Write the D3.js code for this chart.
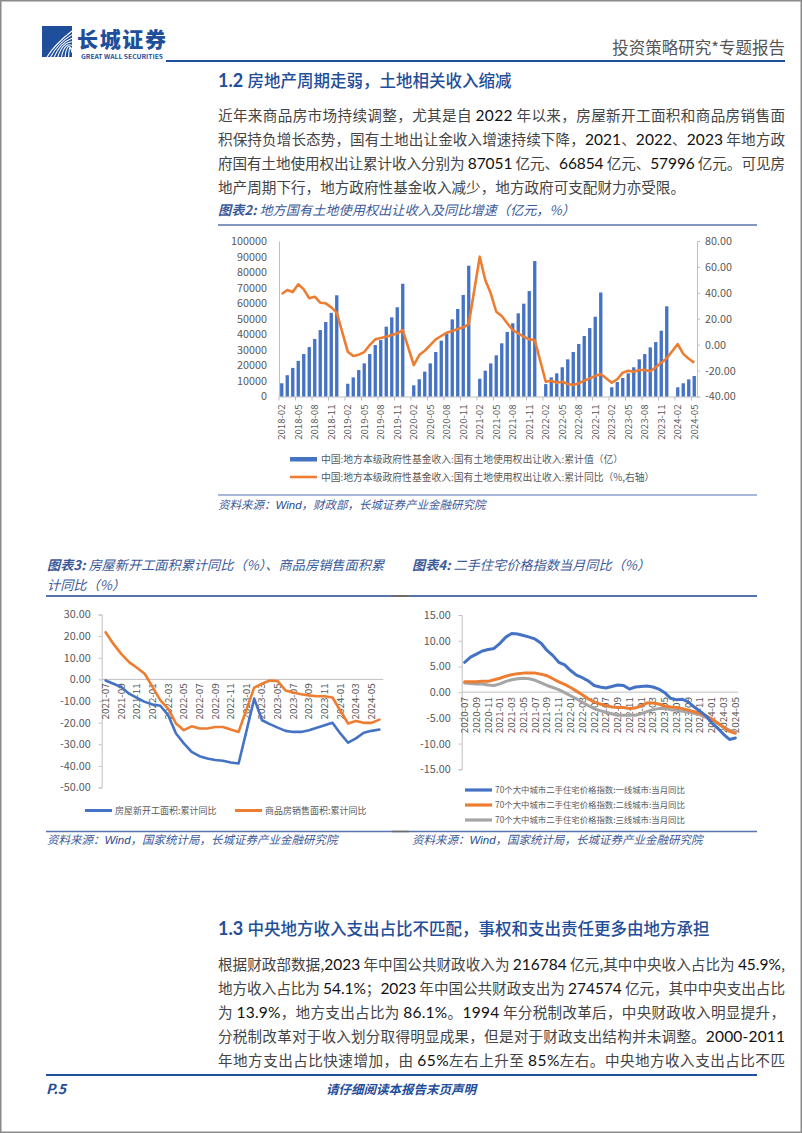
<!DOCTYPE html>
<html><head><meta charset="utf-8">
<script src="https://cdn.jsdelivr.net/npm/d3@7"></script>
<style>
html,body{margin:0;padding:0;background:#fff;}
svg{display:block;}
text{font-family:"Noto Sans CJK SC","Noto Sans",sans-serif;}
</style></head><body>
<svg id="page" width="802" height="1133"></svg>
<script>
// ---------------- DATA ----------------
const landMonths = [
"2018-02","2018-03","2018-04","2018-05","2018-06","2018-07","2018-08","2018-09","2018-10","2018-11","2018-12",
"2019-01","2019-02","2019-03","2019-04","2019-05","2019-06","2019-07","2019-08","2019-09","2019-10","2019-11","2019-12",
"2020-01","2020-02","2020-03","2020-04","2020-05","2020-06","2020-07","2020-08","2020-09","2020-10","2020-11","2020-12",
"2021-01","2021-02","2021-03","2021-04","2021-05","2021-06","2021-07","2021-08","2021-09","2021-10","2021-11","2021-12",
"2022-01","2022-02","2022-03","2022-04","2022-05","2022-06","2022-07","2022-08","2022-09","2022-10","2022-11","2022-12",
"2023-01","2023-02","2023-03","2023-04","2023-05","2023-06","2023-07","2023-08","2023-09","2023-10","2023-11","2023-12",
"2024-01","2024-02","2024-03","2024-04","2024-05"];
const landValue = [
8500,13700,18400,22900,27300,31800,37000,42700,47900,53800,65100,
null,8200,12300,17000,21300,27300,33100,36300,44900,50900,57400,72500,
null,7200,11100,16000,21300,28600,35900,40200,49600,56300,65300,84100,
null,11400,16600,21300,26500,34200,41500,47100,53500,59700,67800,87100,
null,8000,12300,14900,18800,23900,28600,33800,38900,44000,51300,66900,
null,5900,9300,11900,14900,18800,23900,27300,31600,35000,42300,58000,
null,5900,8500,11000,13200];
const landYoY = [
39.1,42.2,40.6,46.6,42.7,35.8,37.0,32.4,31.9,28.8,24.7,
null,-5.4,-8.7,-7.7,-5.7,-0.3,4.1,5.1,6.1,7.5,8.7,11.3,
null,-15.7,-8.0,-4.7,-0.3,4.1,6.7,9.2,10.5,12.1,13.4,15.9,
null,67.9,49.9,39.6,25.4,22.1,16.5,11.3,8.7,6.1,4.1,3.6,
null,-28.6,-27.8,-29.4,-28.6,-30.4,-31.1,-29.8,-27.8,-26.0,-24.2,-22.6,
null,-29.4,-26.7,-21.6,-20.1,-20.9,-19.5,-19.5,-20.5,-17.5,-14.0,-10.5,
null,0.5,-7.1,-10.9,-13.9];
const landLeftTicks = [0,10000,20000,30000,40000,50000,60000,70000,80000,90000,100000];
const landRightTicks = [-40,-20,0,20,40,60,80];
const landLegend = ["中国:地方本级政府性基金收入:国有土地使用权出让收入:累计值（亿）",
                    "中国:地方本级政府性基金收入:国有土地使用权出让收入:累计同比（%,右轴）"];

const houseMonths = [
"2021-07","2021-08","2021-09","2021-10","2021-11","2021-12",
"2022-01","2022-02","2022-03","2022-04","2022-05","2022-06","2022-07","2022-08","2022-09","2022-10","2022-11","2022-12",
"2023-01","2023-02","2023-03","2023-04","2023-05","2023-06","2023-07","2023-08","2023-09","2023-10","2023-11","2023-12",
"2024-01","2024-02","2024-03","2024-04","2024-05","2024-06"];
const newStartYoY = [-0.5,-2.0,-3.5,-6.6,-8.6,-10.4,
-11.6,-12.2,-16.6,-25.0,-29.6,-33.5,-35.5,-36.6,-37.3,-37.6,-38.4,-38.9,
-24.0,-8.9,-18.9,-20.7,-22.3,-23.8,-24.3,-24.3,-23.5,-22.4,-21.2,-20.1,
-25.0,-29.3,-27.3,-24.7,-23.8,-23.2];
const salesAreaYoY = [21.8,16.4,11.8,8.0,5.4,2.6,
-3.5,-9.7,-13.5,-20.4,-23.5,-21.7,-22.7,-22.7,-22.0,-22.0,-23.2,-24.3,
-14.0,-3.8,-2.0,-0.5,-0.8,-5.1,-6.1,-6.9,-7.4,-7.8,-7.8,-8.4,
-14.4,-20.4,-19.2,-20.1,-20.1,-18.6];
const houseTicks = [-50,-40,-30,-20,-10,0,10,20,30];
const houseLegend = ["房屋新开工面积:累计同比","商品房销售面积:累计同比"];

const priceMonths = [
"2020-07","2020-08","2020-09","2020-10","2020-11","2020-12",
"2021-01","2021-02","2021-03","2021-04","2021-05","2021-06","2021-07","2021-08","2021-09","2021-10","2021-11","2021-12",
"2022-01","2022-02","2022-03","2022-04","2022-05","2022-06","2022-07","2022-08","2022-09","2022-10","2022-11","2022-12",
"2023-01","2023-02","2023-03","2023-04","2023-05","2023-06","2023-07","2023-08","2023-09","2023-10","2023-11","2023-12",
"2024-01","2024-02","2024-03","2024-04","2024-05"];
const tier1YoY = [5.8,6.8,7.4,8.0,8.3,8.5,
9.5,10.7,11.4,11.3,11.0,10.7,10.3,9.5,8.1,7.1,5.8,5.3,
4.2,3.3,2.8,2.2,1.3,1.0,0.8,1.1,1.4,1.3,0.6,1.0,
1.1,1.2,1.0,0.6,-0.1,-1.2,-1.5,-1.4,-1.9,-2.9,-3.7,-4.6,
-6.0,-7.0,-8.2,-9.2,-8.9];
const tier2YoY = [2.0,2.0,2.0,2.1,2.1,2.4,
2.7,3.1,3.4,3.6,3.7,3.7,3.7,3.5,3.2,2.6,2.0,1.5,
0.9,0.2,-0.5,-1.3,-1.9,-2.3,-2.6,-2.9,-3.0,-3.0,-3.2,-3.1,
-2.6,-2.1,-2.1,-2.3,-2.7,-2.9,-3.0,-3.2,-3.5,-3.8,-4.1,-4.6,
-5.2,-6.0,-6.8,-7.6,-8.0];
const tier3YoY = [1.8,1.7,1.6,1.6,1.4,1.3,
1.6,2.1,2.4,2.6,2.7,2.6,2.3,1.8,1.3,0.9,0.5,-0.1,
-0.7,-1.3,-2.0,-2.6,-3.2,-3.6,-3.9,-4.2,-4.5,-4.5,-4.5,-4.5,
-4.2,-3.8,-3.4,-3.2,-3.2,-3.4,-3.5,-3.7,-3.8,-4.1,-4.4,-4.9,
-5.4,-6.1,-6.8,-7.4,-7.8];
const priceTicks = [-15,-10,-5,0,5,10,15];
const priceLegend = ["70个大中城市二手住宅价格指数:一线城市:当月同比",
                     "70个大中城市二手住宅价格指数:二线城市:当月同比",
                     "70个大中城市二手住宅价格指数:三线城市:当月同比"];

const para1 = [
"近年来商品房市场持续调整，尤其是自 2022 年以来，房屋新开工面积和商品房销售面",
"积保持负增长态势，国有土地出让金收入增速持续下降，2021、2022、2023 年地方政",
"府国有土地使用权出让累计收入分别为 87051 亿元、66854 亿元、57996 亿元。可见房",
"地产周期下行，地方政府性基金收入减少，地方政府可支配财力亦受限。"];
const para2 = [
"根据财政部数据,2023 年中国公共财政收入为 216784 亿元,其中中央收入占比为 45.9%,",
"地方收入占比为 54.1%；2023 年中国公共财政支出为 274574 亿元，其中中央支出占比",
"为 13.9%，地方支出占比为 86.1%。1994 年分税制改革后，中央财政收入明显提升，",
"分税制改革对于收入划分取得明显成果，但是对于财政支出结构并未调整。2000-2011",
"年地方支出占比快速增加，由 65%左右上升至 85%左右。中央地方收入支出占比不匹"];

// ---------------- STYLE ----------------
const BLUE = "#4472C4", ORANGE = "#ED7D31", GRAY = "#A5A5A5";
const NAVY = "#1F4E9A", CAP = "#3D5A98", RULE = "#5574AC";
const AX = "#595959", AXLINE = "#BFBFBF";
const SERIF = "Liberation Serif, DejaVu Serif, serif";
const TEXT_R = 785;
const RULE_R = 757;

const svg = d3.select("#page");
svg.append("rect").attr("x",0.75).attr("y",0.75).attr("width",800.5).attr("height",1131.5)
   .attr("fill","#fff").attr("stroke","#8a8a8a").attr("stroke-width",1.5);

// ---------------- HEADER ----------------
const logo = svg.append("g");
logo.append("rect").attr("x",42).attr("y",26).attr("width",30).attr("height",31).attr("fill",NAVY);
for (let k = 0; k < 7; k++) {
  logo.append("path")
    .attr("d", `M${47+k*3.6},57 Q${55+k*2.4},${44-k*0.5} ${72},${31+k*3.6}`)
    .attr("fill","none").attr("stroke","#fff").attr("stroke-width",1.1);
}
svg.append("text").attr("x",77).attr("y",46.5).attr("font-size",21).attr("font-weight",900)
   .attr("fill",NAVY).attr("textLength",89).text("长城证券");
svg.append("text").attr("x",81).attr("y",58.5).attr("font-size",6.2).attr("font-weight",700)
   .attr("font-family","Liberation Sans, Arial, sans-serif")
   .attr("fill",NAVY).attr("textLength",82).attr("lengthAdjust","spacingAndGlyphs").text("GREAT WALL SECURITIES");
svg.append("text").attr("x",TEXT_R).attr("y",54).attr("text-anchor","end").attr("font-size",16.5)
   .attr("fill","#555").text("投资策略研究*专题报告");
svg.append("line").attr("x1",166).attr("x2",TEXT_R).attr("y1",61).attr("y2",61)
   .attr("stroke",NAVY).attr("stroke-width",2);

// ---------------- TEXT HELPERS ----------------
function heading(x, y, num, s) {
  const t = svg.append("text").attr("x",x).attr("y",y).attr("fill",NAVY).attr("font-size",16.5);
  t.append("tspan").attr("font-family","Lato, Noto Sans, sans-serif").attr("font-weight",700).attr("font-size",18).text(num + " ");
  t.append("tspan").attr("font-weight",500).text(s);
}
function paragraph(lines, x, y0, dy, width, justifyLast) {
  lines.forEach((ln, i) => {
    const t = svg.append("text").attr("x",x).attr("y",y0 + i*dy).attr("font-size",14.6).attr("fill","#444");
    if (i < lines.length - 1 || justifyLast) t.attr("textLength",width).attr("lengthAdjust","spacing");
    ln.split(/([0-9][0-9.\-]*%?)/).forEach((part, k) => {
      if (!part) return;
      const sp = t.append("tspan").text(part);
      if (k % 2) sp.attr("fill","#111").attr("font-family","Lato, Noto Sans, sans-serif").attr("font-size",15.5);
    });
  });
}
function caption(x, y, label, s) {
  const t = svg.append("text").attr("x",x).attr("y",y).attr("font-size",13.2)
     .attr("font-style","italic").attr("fill",CAP);
  if (label) t.append("tspan").attr("font-weight",700).text(label + " ");
  t.append("tspan").text(s);
}
function source(x, y) {
  const t = svg.append("text").attr("x",x).attr("y",y).attr("font-size",11.5)
     .attr("font-style","italic").attr("fill",CAP);
  t.append("tspan").text("资料来源：");
  t.append("tspan").attr("font-family","Liberation Sans, Arial, sans-serif").attr("fill","#2a4a8a").text("Wind");
  return t;
}

// ---------------- SECTION 1.2 ----------------
heading(218, 87, "1.2", "房地产周期走弱，土地相关收入缩减");
paragraph(para1, 218, 120.5, 24, TEXT_R - 218, false);
caption(218, 215, "图表2:", "地方国有土地使用权出让收入及同比增速（亿元，%）");
svg.append("line").attr("x1",218).attr("x2",RULE_R).attr("y1",225).attr("y2",225).attr("stroke",RULE).attr("stroke-width",1.6);

// ---------------- CHART 2 ----------------
const c2 = {l:279, r:697, t:241, b:396.5};
const x2 = d3.scaleBand().domain(landMonths).range([c2.l, c2.r]).paddingInner(0.4).paddingOuter(0.2);
const yL = d3.scaleLinear().domain([0,100000]).range([c2.b, c2.t]);
const yR = d3.scaleLinear().domain([-40,80]).range([c2.b, c2.t]);
const g2 = svg.append("g");

const axL = g2.append("g").attr("transform",`translate(${c2.l},0)`)
  .call(d3.axisLeft(yL).tickValues(landLeftTicks).tickSize(0).tickPadding(12).tickFormat(d3.format("d")));
const axR = g2.append("g").attr("transform",`translate(${c2.r},0)`)
  .call(d3.axisRight(yR).tickValues(landRightTicks).tickSize(3).tickPadding(5).tickFormat(d => d.toFixed(2)));
[axL, axR].forEach(a => {
  a.attr("font-family",SERIF).attr("font-size",10.8);
  a.selectAll(".domain").attr("stroke",AXLINE);
  a.selectAll(".tick line").attr("stroke",AXLINE);
  a.selectAll("text").attr("fill",AX);
});
const lab2 = landMonths.filter((m,i) => i % 3 === 0);
const axB2 = g2.append("g").attr("transform",`translate(0,${c2.b})`)
  .call(d3.axisBottom(x2).tickValues(lab2).tickSize(0).tickPadding(0));
axB2.attr("font-family",SERIF).attr("font-size",9.6);
axB2.selectAll(".domain").attr("stroke",AXLINE);
axB2.selectAll("text").attr("fill",AX).attr("transform","rotate(-90)").attr("text-anchor","end")
  .attr("x",-8).attr("y",0).attr("dy","0.35em");
const edge2 = (x2.step() - x2.bandwidth())/2;
g2.selectAll("line.tk2").data(lab2).join("line").attr("class","tk2")
  .attr("x1",d => x2(d) - edge2).attr("x2",d => x2(d) - edge2)
  .attr("y1",c2.b).attr("y2",c2.b + 4).attr("stroke",AXLINE);

const barData = landMonths.map((m,i) => ({m, v:landValue[i]})).filter(d => d.v != null);
g2.selectAll("rect.bar").data(barData).join("rect").attr("class","bar")
  .attr("x",d => x2(d.m)).attr("width",x2.bandwidth())
  .attr("y",d => yL(d.v)).attr("height",d => yL(0) - yL(d.v)).attr("fill",BLUE);
const yoyData = landMonths.map((m,i) => ({m, v:landYoY[i]})).filter(d => d.v != null);
g2.append("path").datum(yoyData)
  .attr("d", d3.line().x(d => x2(d.m) + x2.bandwidth()/2).y(d => yR(d.v)))
  .attr("fill","none").attr("stroke",ORANGE).attr("stroke-width",2.6).attr("stroke-linejoin","round");

const lg2 = svg.append("g");
lg2.append("rect").attr("x",290).attr("y",457).attr("width",27).attr("height",4.5).attr("fill",BLUE);
lg2.append("line").attr("x1",290).attr("x2",317).attr("y1",477).attr("y2",477).attr("stroke",ORANGE).attr("stroke-width",2.6);
landLegend.forEach((s,i) => {
  lg2.append("text").attr("x",321).attr("y",462.5 + i*18).attr("font-size",9.8).attr("fill",AX).text(s);
});
svg.append("line").attr("x1",218).attr("x2",RULE_R).attr("y1",495).attr("y2",495).attr("stroke",RULE).attr("stroke-width",1.2);
source(218, 509).append("tspan").text("，财政部，长城证券产业金融研究院");

// ---------------- CAPTIONS 3/4 ----------------
caption(47, 570, "图表3:", "房屋新开工面积累计同比（%）、商品房销售面积累");
caption(47, 590, null, "计同比（%）");
caption(412, 570, "图表4:", "二手住宅价格指数当月同比（%）");
svg.append("line").attr("x1",46).attr("x2",RULE_R).attr("y1",596).attr("y2",596).attr("stroke",RULE).attr("stroke-width",2);
svg.append("line").attr("x1",392).attr("x2",409).attr("y1",596).attr("y2",596).attr("stroke","#6b6b6b").attr("stroke-width",2);

// ---------------- GENERIC LINE CHART ----------------
function lineChart(cfg) {
  const g = svg.append("g");
  const x = d3.scaleBand().domain(cfg.months).range([cfg.l, cfg.r]);
  const y = d3.scaleLinear().domain(cfg.domain).range([cfg.b, cfg.t]);
  const cx = m => x(m) + x.bandwidth()/2;
  const ay = g.append("g").attr("transform",`translate(${cfg.l},0)`)
    .call(d3.axisLeft(y).tickValues(cfg.ticks).tickSize(3).tickPadding(8)
      .tickFormat(d => d.toFixed(2).replace("−","-")));
  ay.attr("font-family",SERIF).attr("font-size",10.8);
  ay.selectAll(".domain").attr("stroke",AXLINE);
  ay.selectAll(".tick line").attr("stroke",AXLINE);
  ay.selectAll("text").attr("fill",AX);
  g.append("line").attr("x1",cfg.l).attr("x2",cfg.r).attr("y1",y(0)).attr("y2",y(0)).attr("stroke",AXLINE);
  const labs = cfg.months.filter((m,i) => i % 2 === 0);
  g.selectAll("text.xl").data(labs).join("text").attr("class","xl")
    .attr("transform",d => `translate(${cx(d)},${y(0) + cfg.labGap}) rotate(-90)`)
    .attr("text-anchor","end").attr("dy","0.35em")
    .attr("font-family",SERIF).attr("font-size",9.8).attr("fill",AX).text(d => d);
  const ln = d3.line().x(d => cx(d.m)).y(d => y(d.v));
  cfg.series.forEach(s => {
    g.append("path").datum(cfg.months.map((m,i) => ({m, v:s.values[i]})))
      .attr("d",ln).attr("fill","none").attr("stroke",s.color).attr("stroke-width",cfg.sw)
      .attr("stroke-linejoin","round").attr("stroke-linecap","round");
  });
  return g;
}

lineChart({months:houseMonths, l:101.7, r:383.3, t:614.5, b:787.5, domain:[-50,30], ticks:houseTicks, labGap:4, sw:2.6,
  series:[{values:newStartYoY, color:BLUE},{values:salesAreaYoY, color:ORANGE}]});
const lg3 = svg.append("g");
[[85,BLUE],[235,ORANGE]].forEach(([x,c],i) => {
  lg3.append("line").attr("x1",x).attr("x2",x+27).attr("y1",810.5).attr("y2",810.5).attr("stroke",c).attr("stroke-width",3);
  lg3.append("text").attr("x",x+30).attr("y",814).attr("font-size",9).attr("fill",AX).text(houseLegend[i]);
});

lineChart({months:priceMonths, l:461.7, r:738.3, t:615, b:769.3, domain:[-15,15], ticks:priceTicks, labGap:5, sw:3,
  series:[{values:tier3YoY, color:GRAY},{values:tier2YoY, color:ORANGE},{values:tier1YoY, color:BLUE}]});
const lg4 = svg.append("g");
[BLUE,ORANGE,GRAY].forEach((c,i) => {
  const yy = 790 + i*15;
  lg4.append("line").attr("x1",465).attr("x2",492).attr("y1",yy).attr("y2",yy).attr("stroke",c).attr("stroke-width",3.2);
  lg4.append("text").attr("x",495).attr("y",yy+3.2).attr("font-size",8.4).attr("fill",AX).text(priceLegend[i]);
});

svg.append("line").attr("x1",46).attr("x2",RULE_R).attr("y1",831.5).attr("y2",831.5).attr("stroke",RULE).attr("stroke-width",1.5);
svg.append("line").attr("x1",392).attr("x2",409).attr("y1",831.5).attr("y2",831.5).attr("stroke","#6b6b6b").attr("stroke-width",1.5);
source(47, 844).append("tspan").text("，国家统计局，长城证券产业金融研究院");
source(412, 844).append("tspan").text("，国家统计局，长城证券产业金融研究院");

// ---------------- SECTION 1.3 ----------------
heading(218, 935, "1.3", "中央地方收入支出占比不匹配，事权和支出责任更多由地方承担");
paragraph(para2, 218, 970, 24, TEXT_R - 218, true);

// ---------------- FOOTER ----------------
svg.append("line").attr("x1",46).attr("x2",RULE_R).attr("y1",1075).attr("y2",1075).attr("stroke",NAVY).attr("stroke-width",2);
svg.append("text").attr("x",46).attr("y",1094).attr("font-size",14).attr("font-weight",700).attr("font-style","italic")
   .attr("font-family","Lato, Noto Sans, sans-serif").attr("fill",NAVY).text("P.5");
svg.append("text").attr("x",401).attr("y",1094).attr("text-anchor","middle").attr("font-size",12.5)
   .attr("font-weight",700).attr("font-style","italic").attr("fill",NAVY).text("请仔细阅读本报告末页声明");
</script></body></html>
